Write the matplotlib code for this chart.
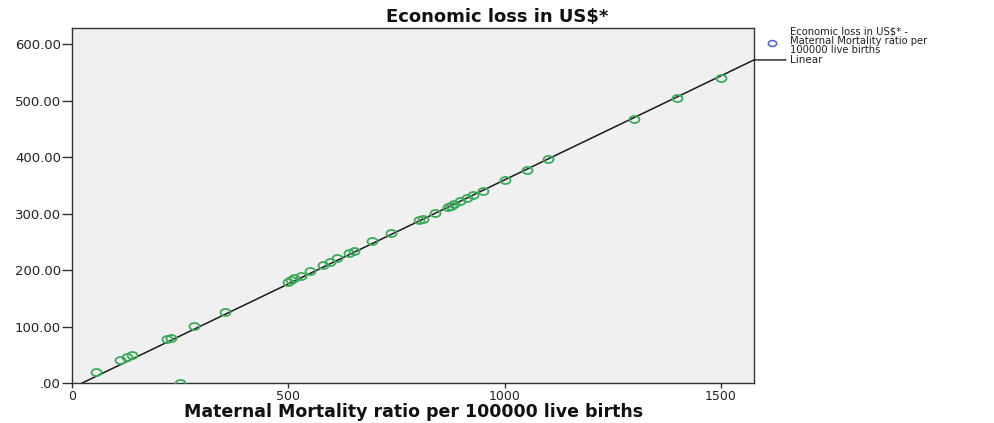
import matplotlib.pyplot as plt
import numpy as np
from matplotlib.lines import Line2D
from matplotlib.markers import MarkerStyle
from matplotlib.path import Path
from matplotlib.ticker import FuncFormatter
from matplotlib.transforms import Affine2D

# maternal mortality ratio (per 100000 live births) and economic loss (US$)
mmr = [55, 110, 127, 139, 218, 229, 250, 281, 353,
       498, 505, 514, 530, 549, 579, 595, 613, 641, 652,
       694, 738, 803, 812, 838, 868, 877, 884, 898, 912, 926, 949,
       1000, 1051, 1100, 1299, 1398, 1500]
loss = [20, 41, 46, 50, 78, 80, 0, 101, 126,
        180, 182, 186, 190, 198, 210, 214, 221, 231, 234,
        251, 265, 288, 291, 301, 311, 314, 317, 322, 327, 333, 340,
        360, 378, 396, 468, 504, 540]

x_ticks = [0, 500, 1000, 1500]
y_ticks = [0, 100, 200, 300, 400, 500, 600]

title = "Economic loss in US$*"
x_label = "Maternal Mortality ratio per 100000 live births"
series_label = "Economic loss in US$* -\nMaternal Mortality ratio per\n100000 live births"
fit_label = "Linear"

W, H = 995, 423
plt.rcParams["font.family"] = "DejaVu Sans"

# slightly flattened open circle, as in the SPSS output
ring = MarkerStyle(Path.unit_circle().transformed(Affine2D().scale(1.0, 0.7)))

fig = plt.figure(figsize=(W / 100, H / 100), dpi=100)
ax = fig.add_axes([72.3 / W, 1 - 383.3 / H, (754 - 72.3) / W, (383.3 - 27.7) / H])
ax.set_facecolor("#f0f0f0")
ax.set_xlim(0, 1577)
ax.set_ylim(0, 629)

# least-squares fit line
slope, icept = np.polyfit(mmr, loss, 1)
xs = np.array(ax.get_xlim())
ys = icept + slope * xs
ax.plot(xs, ys, color="#1a1a1a", lw=1.1, zorder=2)

ax.plot(mmr, loss, linestyle="none", marker=ring, markersize=7.2,
        mfc="none", mec="#3caa5a", mew=1.3, zorder=3)

for s in ax.spines.values():
    s.set_color("#333333")
    s.set_linewidth(1.0)

ax.set_xticks(x_ticks)
ax.set_yticks(y_ticks)
ax.yaxis.set_major_formatter(
    FuncFormatter(lambda v, p: ".00" if v == 0 else f"{v:.2f}"))
ax.tick_params(axis="y", length=7.2, width=1, pad=1, labelsize=9.5,
               color="#333333", labelcolor="#222222")
ax.tick_params(axis="x", length=3.6, width=1, pad=1.5, labelsize=9,
               color="#333333", labelcolor="#222222")

ax.set_xlabel(x_label, fontsize=12.5, fontweight="bold", color="#111111")
ax.xaxis.label.set_va("center")
ax.xaxis.set_label_coords(0.5, (383.3 - 412) / 355.6)

fig.suptitle(title, x=497 / W, y=1 - 17.5 / H, va="center",
             fontsize=13, fontweight="bold", color="#111111")

# legend entry for the points
fig.add_artist(Line2D([771.7 / W], [1 - 42.7 / H], transform=fig.transFigure,
                      linestyle="none", marker=ring, markersize=6,
                      mfc="none", mec="#5b68c0", mew=1.2))
fig.text(790 / W, 1 - 40.5 / H, series_label, ha="left", va="center",
         fontsize=7.2, linespacing=0.9, color="#222222")

# label at the end of the fit line, joined by a short horizontal leader
ax.annotate(fit_label, xy=(xs[1], ys[1]), xycoords="data",
            xytext=(26, 0), textcoords="offset points",
            ha="left", va="center", fontsize=7.5, color="#222222",
            arrowprops=dict(arrowstyle="-", color="#1a1a1a", lw=1,
                            shrinkA=1, shrinkB=0),
            annotation_clip=False)

fig.savefig("out.png", dpi=100)
